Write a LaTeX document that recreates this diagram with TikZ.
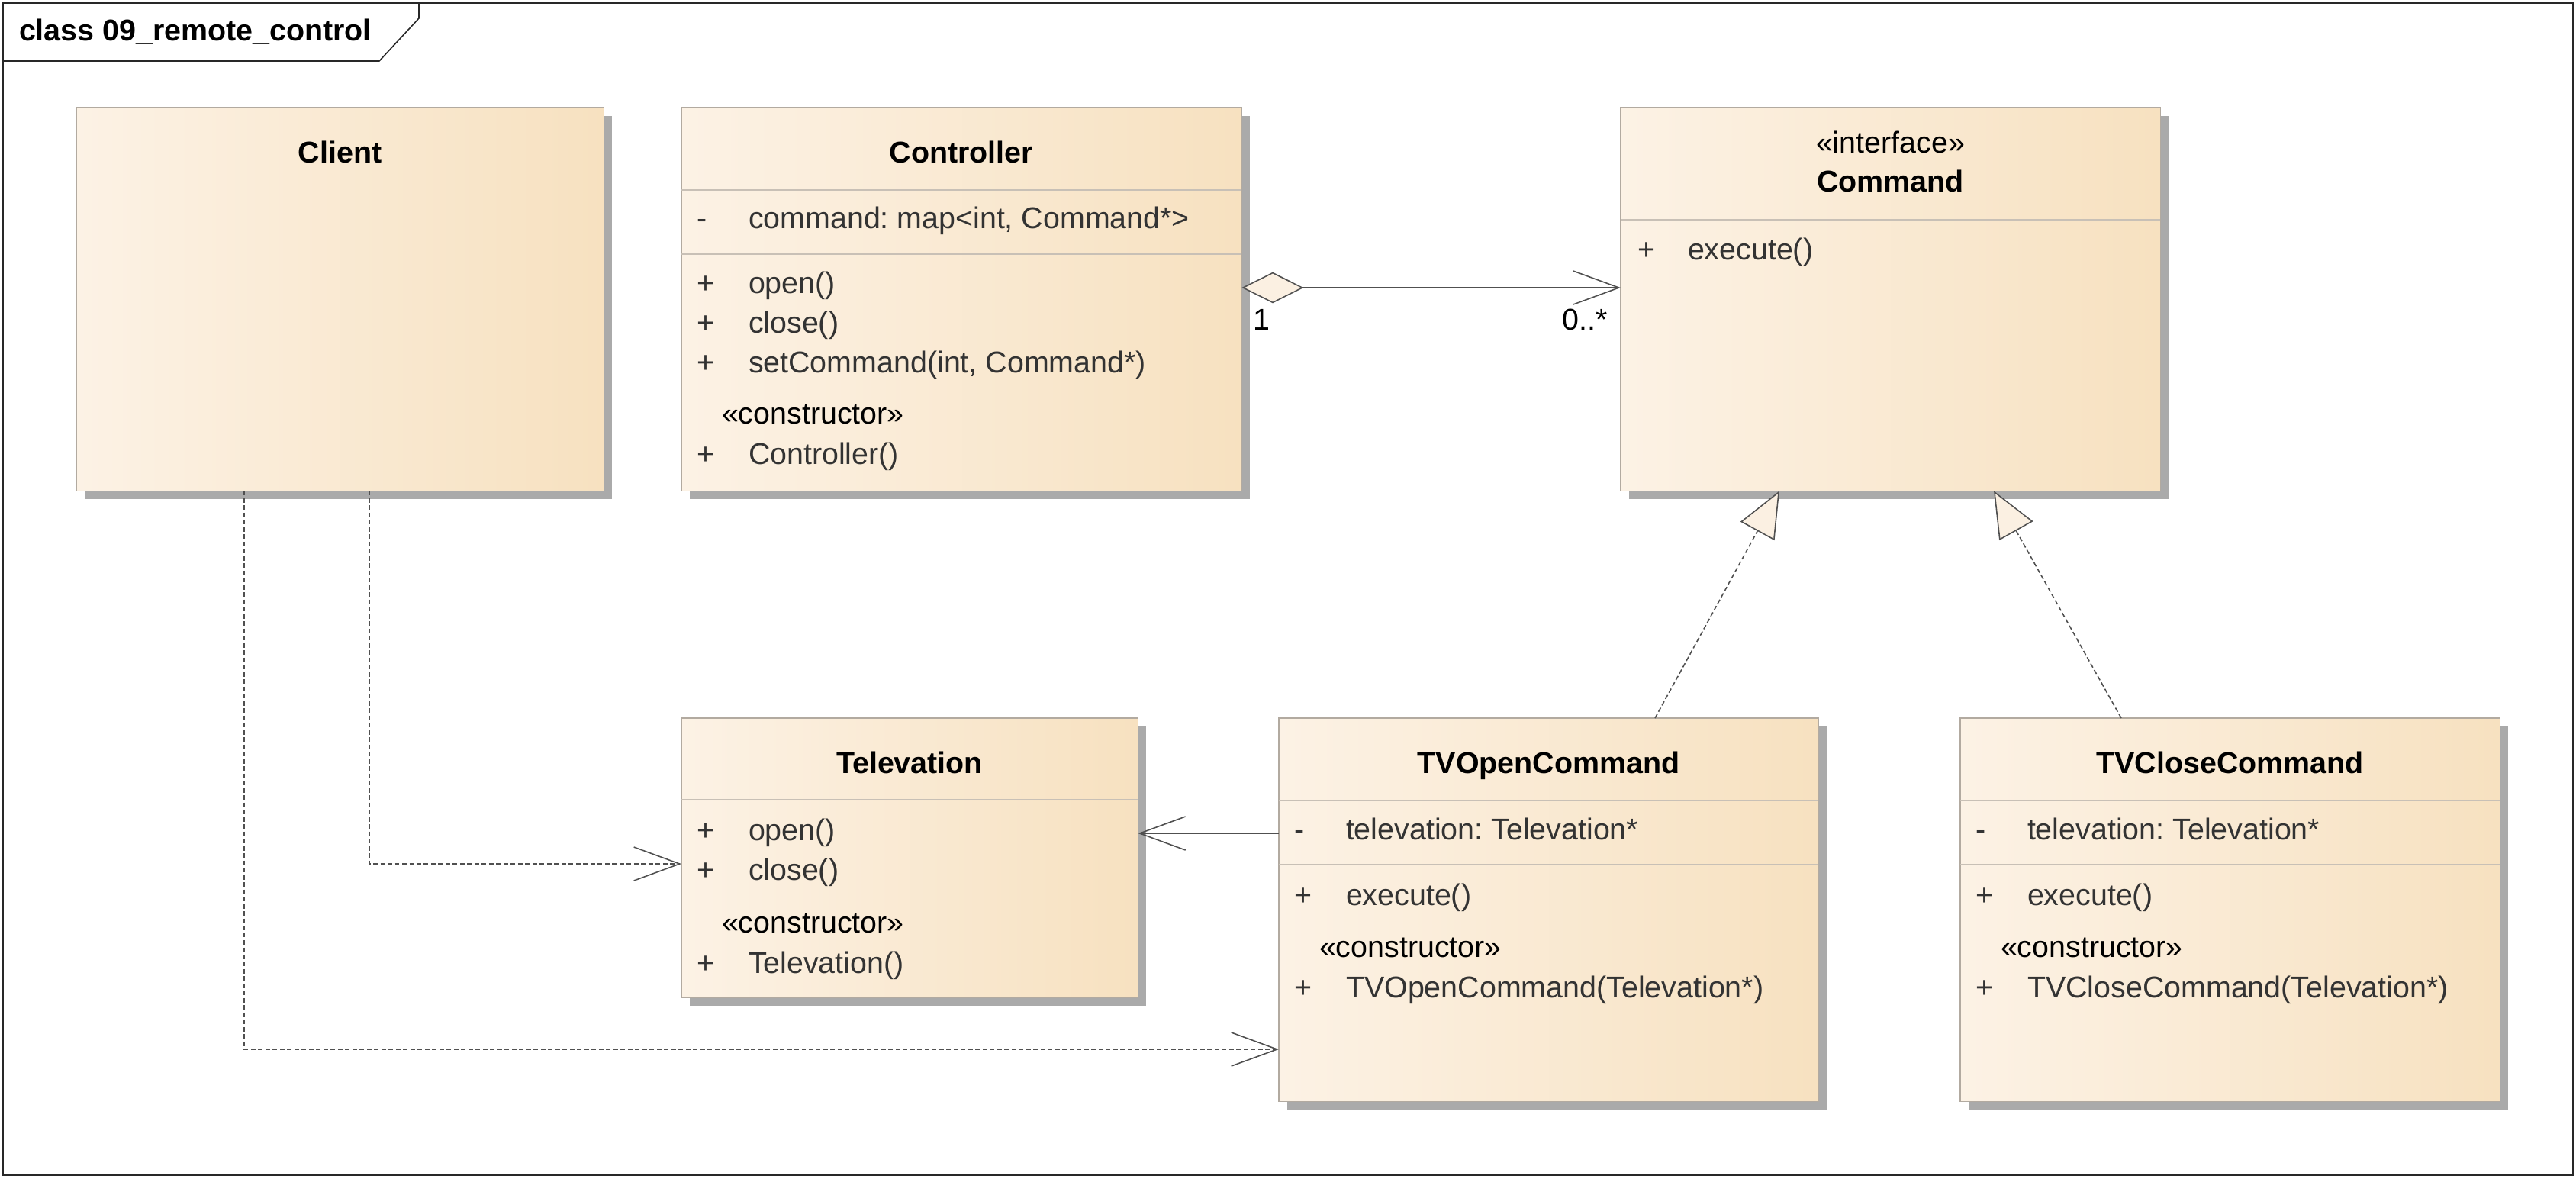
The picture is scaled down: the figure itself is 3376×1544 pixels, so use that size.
\documentclass[tikz,border=0pt]{standalone}
\usepackage{fontspec}
\setmainfont{Liberation Sans}
\usetikzlibrary{arrows.meta,calc,shadows}
\definecolor{boxL}{RGB}{252,242,229}
\definecolor{boxR}{RGB}{247,225,192}
\definecolor{boxBorder}{RGB}{178,170,160}
\definecolor{sepC}{RGB}{200,192,182}
\definecolor{shadowC}{RGB}{170,170,170}
\definecolor{memberC}{RGB}{51,51,51}
\definecolor{lineC}{RGB}{80,80,80}
\definecolor{tipFill}{RGB}{251,240,226}
\definecolor{frameC}{RGB}{40,40,40}
\frenchspacing
\begin{document}
\begin{tikzpicture}[x=0.01cm,y=-0.01cm,
  umlbox/.style={draw=boxBorder, line width=0.4pt, left color=boxL, right color=boxR,
    anchor=north west, inner sep=0pt, outer sep=0pt,
    drop shadow={shadow xshift=0.11cm, shadow yshift=-0.11cm, fill=shadowC, opacity=1}},
  txt/.style={font=\fontsize{11.2pt}{13pt}\selectfont, inner sep=0pt, outer sep=0pt},
  cname/.style={txt, font=\fontsize{11.2pt}{13pt}\selectfont\bfseries, text=black, anchor=base},
  member/.style={txt, text=memberC, anchor=base west},
  stereo/.style={txt, text=black, anchor=base west},
  multi/.style={txt, text=black},
  sepline/.style={draw=sepC, line width=0.4pt},
  conn/.style={draw=lineC, line width=0.45pt},
  dep/.style={conn, dash pattern=on 1.7pt off 1pt},
  openhead/.style={-{Straight Barb[length=6mm,width=4.4mm]}},
  realhead/.style={-{Triangle[length=6mm,width=5.06mm,fill=tipFill]}}
]
\useasboundingbox (0,0) rectangle (3376,1544);
% frame
\draw[draw=frameC, line width=0.45pt] (4,4) rectangle (3372,1540);
\draw[draw=frameC, line width=0.45pt] (4,80) -- (497,80) -- (549,24) -- (549,4);
\node[txt, font=\fontsize{11.2pt}{13pt}\selectfont\bfseries, anchor=base west] (title) at (25,53) {class 09\_remote\_control};

% boxes
\node[umlbox, minimum width=6.91cm, minimum height=5.02cm] (client) at (100,141) {};
\node[umlbox, minimum width=7.34cm, minimum height=5.02cm] (ctrl) at (893,141) {};
\node[umlbox, minimum width=7.07cm, minimum height=5.02cm] (cmd) at (2124,141) {};
\node[umlbox, minimum width=5.98cm, minimum height=3.66cm] (tv) at (893,941) {};
\node[umlbox, minimum width=7.07cm, minimum height=5.02cm] (tvo) at (1676,941) {};
\node[umlbox, minimum width=7.07cm, minimum height=5.02cm] (tvc) at (2569,941) {};

% Client
\node[cname] (clientN) at (445.5,213) {Client};

% Controller
\node[cname] (ctrlN) at (1260,213) {Controller};
\draw[sepline] (ctrl.west |- 0,249) -- (ctrl.east |- 0,249);
\draw[sepline] (ctrl.west |- 0,333) -- (ctrl.east |- 0,333);
\node[member] (ca0) at (913,299) {-};
\node[member] (ca1) at (981,299) {command: map<int, Command*>};
\node[member] (co0) at (913,384) {+};
\node[member] (co1) at (981,384) {open()};
\node[member] (co2) at (913,436) {+};
\node[member] (co3) at (981,436) {close()};
\node[member] (co4) at (913,488) {+};
\node[member] (co5) at (981,488) {setCommand(int, Command*)};
\node[stereo] (cst) at (946,555) {«constructor»};
\node[member] (co6) at (913,608) {+};
\node[member] (co7) at (981,608) {Controller()};

% Command
\node[txt, text=black, anchor=base] (cmdS) at (2477.5,200) {«interface»};
\node[cname] (cmdN) at (2477.5,251) {Command};
\draw[sepline] (cmd.west |- 0,288) -- (cmd.east |- 0,288);
\node[member] (cm0) at (2146,340) {+};
\node[member] (cm1) at (2212,340) {execute()};

% Televation
\node[cname] (tvN) at (1192,1013) {Televation};
\draw[sepline] (tv.west |- 0,1048) -- (tv.east |- 0,1048);
\node[member] (to0) at (913,1101) {+};
\node[member] (to1) at (981,1101) {open()};
\node[member] (to2) at (913,1153) {+};
\node[member] (to3) at (981,1153) {close()};
\node[stereo] (tst) at (946,1222) {«constructor»};
\node[member] (to4) at (913,1275) {+};
\node[member] (to5) at (981,1275) {Televation()};

% TVOpenCommand
\node[cname] (tvoN) at (2029.5,1013) {TVOpenCommand};
\draw[sepline] (tvo.west |- 0,1049) -- (tvo.east |- 0,1049);
\draw[sepline] (tvo.west |- 0,1133) -- (tvo.east |- 0,1133);
\node[member] (oa0) at (1696,1100) {-};
\node[member] (oa1) at (1764,1100) {televation: Televation*};
\node[member] (oo0) at (1696,1186) {+};
\node[member] (oo1) at (1764,1186) {execute()};
\node[stereo] (ost) at (1729,1254) {«constructor»};
\node[member] (oo2) at (1696,1307) {+};
\node[member] (oo3) at (1764,1307) {TVOpenCommand(Televation*)};

% TVCloseCommand
\node[cname] (tvcN) at (2922.5,1013) {TVCloseCommand};
\draw[sepline] (tvc.west |- 0,1049) -- (tvc.east |- 0,1049);
\draw[sepline] (tvc.west |- 0,1133) -- (tvc.east |- 0,1133);
\node[member] (xa0) at (2589,1100) {-};
\node[member] (xa1) at (2657,1100) {televation: Televation*};
\node[member] (xo0) at (2589,1186) {+};
\node[member] (xo1) at (2657,1186) {execute()};
\node[stereo] (xst) at (2622,1254) {«constructor»};
\node[member] (xo2) at (2589,1307) {+};
\node[member] (xo3) at (2657,1307) {TVCloseCommand(Televation*)};

% connectors
\draw[conn, {Diamond[length=8.1mm,width=4.06mm,fill=tipFill]}-{Straight Barb[length=6mm,width=4.4mm]}]
  (ctrl.east |- 0,377) -- (cmd.west |- 0,377);
\node[multi, anchor=base west] (m1) at (1642,432) {1};
\node[multi, anchor=base east] (m2) at (2107,432) {0..*};

\draw[conn, openhead] (tvo.west |- 0,1092) -- (tv.east |- 0,1092);
\draw[dep, openhead] (client.south -| 484,0) |- (tv.west |- 0,1132);
\draw[dep, openhead] (client.south -| 320,0) |- (tvo.west |- 0,1375);
\draw[dep, realhead] (tvo.north -| 2169,0) -- (cmd.south -| 2332,0);
\draw[dep, realhead] (tvc.north -| 2780,0) -- (cmd.south -| 2613,0);
\end{tikzpicture}
\end{document}
